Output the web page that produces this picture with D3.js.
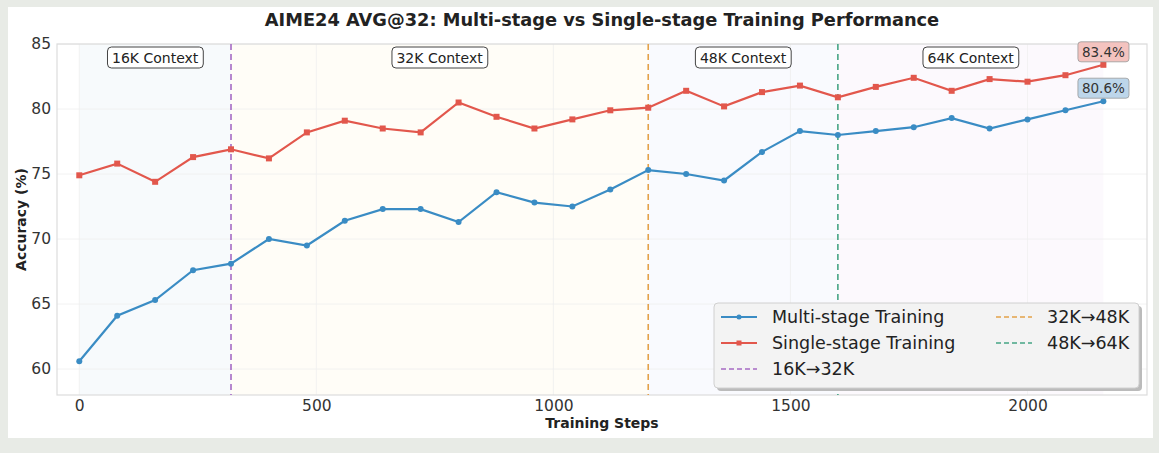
<!DOCTYPE html>
<html><head><meta charset="utf-8">
<script src="https://cdn.jsdelivr.net/npm/d3@7"></script>
<style>
html,body{margin:0;padding:0;background:#e8ebe6;}
svg{display:block;font-family:"DejaVu Sans",sans-serif;}
</style></head>
<body><svg id="c" width="1159" height="453"></svg>
<script>
const steps = [0,80,160,240,320,400,480,560,640,720,800,880,960,1040,1120,1200,1280,1360,1440,1520,1600,1680,1760,1840,1920,2000,2080,2160];
const multiStage = [60.6,64.1,65.3,67.6,68.1,70.0,69.5,71.4,72.3,72.3,71.3,73.6,72.8,72.5,73.8,75.3,75.0,74.5,76.7,78.3,78.0,78.3,78.6,79.3,78.5,79.2,79.9,80.6];
const singleStage = [74.9,75.8,74.4,76.3,76.9,76.2,78.2,79.1,78.5,78.2,80.5,79.4,78.5,79.2,79.9,80.1,81.4,80.2,81.3,81.8,80.9,81.7,82.4,81.4,82.3,82.1,82.6,83.4];
const transitions = [320,1200,1600];
const transitionLabels = ["16K→32K","32K→48K","48K→64K"];
const stageBounds = [0,320,1200,1600,2160];
const stageLabels = ["16K Context","32K Context","48K Context","64K Context"];
const xTicks = [0,500,1000,1500,2000];
const yTicks = [60,65,70,75,80,85];

const svg = d3.select("#c");
const L=57, R=1147, T=44, B=395;
const x = d3.scaleLinear().domain([-47,2252]).range([L,R]);
const y = d3.scaleLinear().domain([58,85]).range([B,T]);

// card
svg.append("rect").attr("x",8).attr("y",7).attr("width",1145).attr("height",431).attr("fill","#fff");

// title
svg.append("text").attr("x",602).attr("y",26).attr("text-anchor","middle")
  .attr("font-size",17.8).attr("font-weight","bold").attr("fill","#222")
  .text("AIME24 AVG@32: Multi-stage vs Single-stage Training Performance");

const stageFills = ["#f7fafc","#fffdf7","#f9fafe","#fcf9fd"];
const stageColors = ["#a66bc4","#e3a24a","#46a585"];

const g = svg.append("g");
// shading
g.selectAll("rect.stage").data(stageLabels).join("rect")
  .attr("x",(d,i)=>x(stageBounds[i])).attr("width",(d,i)=>x(stageBounds[i+1])-x(stageBounds[i]))
  .attr("y",T).attr("height",B-T).attr("fill",(d,i)=>stageFills[i]);

// grid
g.selectAll("line.gy").data(yTicks).join("line")
  .attr("x1",L).attr("x2",R).attr("y1",d=>y(d)).attr("y2",d=>y(d))
  .attr("stroke","#efefef").attr("stroke-width",0.8);
g.selectAll("line.gx").data(xTicks).join("line")
  .attr("y1",T).attr("y2",B).attr("x1",d=>x(d)).attr("x2",d=>x(d))
  .attr("stroke","#efefef").attr("stroke-width",0.8);

// frame
g.append("rect").attr("x",L).attr("y",T).attr("width",R-L).attr("height",B-T)
  .attr("fill","none").attr("stroke","#dcdcdc").attr("stroke-width",1.2);

// axes
const xa = svg.append("g").attr("transform",`translate(0,${B})`)
  .call(d3.axisBottom(x).tickValues(xTicks).tickFormat(d3.format("d")).tickSize(0).tickPadding(5));
const ya = svg.append("g").attr("transform",`translate(${L},0)`)
  .call(d3.axisLeft(y).tickValues(yTicks).tickSize(0).tickPadding(6));
[xa,ya].forEach(a=>{a.select(".domain").remove();
  a.selectAll("text").attr("font-size",15.5).attr("fill","#333").attr("font-family","DejaVu Sans");});

svg.append("text").attr("x",602).attr("y",428).attr("text-anchor","middle")
  .attr("font-size",14).attr("font-weight","bold").attr("fill","#222").text("Training Steps");
svg.append("text").attr("transform",`translate(26,${(T+B)/2}) rotate(-90)`).attr("text-anchor","middle")
  .attr("font-size",14).attr("font-weight","bold").attr("fill","#222").text("Accuracy (%)");

// transitions
g.selectAll("line.tr").data(transitions).join("line")
  .attr("x1",d=>x(d)).attr("x2",d=>x(d)).attr("y1",T).attr("y2",B)
  .attr("stroke",(d,i)=>stageColors[i]).attr("stroke-width",1.6).attr("stroke-dasharray","6,4");

// stage labels
stageLabels.forEach((s,i)=>{
  const cx = x((stageBounds[i]+stageBounds[i+1])/2);
  const t = svg.append("text").attr("x",cx).attr("y",62.5).attr("text-anchor","middle")
    .attr("font-size",14).attr("fill","#222").text(s);
  const bb = t.node().getBBox();
  svg.insert("rect", () => t.node()).attr("x",bb.x-4.5).attr("y",47).attr("width",bb.width+9).attr("height",21)
    .attr("rx",4).attr("fill","#fff").attr("stroke","#444").attr("stroke-width",1);
});

const blue="#3a8cc4", red="#e2574c";
const line = d3.line().x((d,i)=>x(steps[i])).y(d=>y(d));
g.append("path").datum(multiStage).attr("d",line).attr("fill","none").attr("stroke",blue).attr("stroke-width",2.2);
g.append("path").datum(singleStage).attr("d",line).attr("fill","none").attr("stroke",red).attr("stroke-width",2.2);
g.selectAll("circle.m").data(multiStage).join("circle")
  .attr("cx",(d,i)=>x(steps[i])).attr("cy",d=>y(d)).attr("r",3).attr("fill",blue);
g.selectAll("rect.s").data(singleStage).join("rect")
  .attr("x",(d,i)=>x(steps[i])-3).attr("y",d=>y(d)-3).attr("width",6).attr("height",6).attr("fill",red);

// end labels
function endLabel(val, fill){
  const cx = x(steps[steps.length-1]);
  const cy = y(val)-13;
  const t = svg.append("text").attr("x",cx).attr("y",cy+5).attr("text-anchor","middle")
    .attr("font-size",13.5).attr("fill","#333").text(val.toFixed(1)+"%");
  const bb = t.node().getBBox();
  svg.insert("rect",()=>t.node()).attr("x",bb.x-4).attr("y",cy-10).attr("width",bb.width+8).attr("height",20)
    .attr("rx",3).attr("fill",fill).attr("stroke","#999").attr("stroke-width",0.8);
}
endLabel(singleStage[singleStage.length-1],"#f4c3bf");
endLabel(multiStage[multiStage.length-1],"#bdd6ea");

// legend
const lg = svg.append("g");
lg.append("rect").attr("x",717).attr("y",306).attr("width",425).attr("height",85).attr("rx",4).attr("fill","#bbb");
lg.append("rect").attr("x",714).attr("y",303).attr("width",425).attr("height",85).attr("rx",4)
  .attr("fill","#f3f3f3").attr("stroke","#d0d0d0").attr("stroke-width",1);
const items = [
  {label:"Multi-stage Training",color:blue,type:"m",x:721,y:317},
  {label:"Single-stage Training",color:red,type:"s",x:721,y:343},
  {label:transitionLabels[0],color:stageColors[0],type:"d",x:721,y:369},
  {label:transitionLabels[1],color:stageColors[1],type:"d",x:996,y:317},
  {label:transitionLabels[2],color:stageColors[2],type:"d",x:996,y:343}
];
items.forEach(it=>{
  const l = lg.append("line").attr("x1",it.x).attr("x2",it.x+36).attr("y1",it.y).attr("y2",it.y)
    .attr("stroke",it.color).attr("stroke-width",it.type==="d"?1.6:2.2);
  if(it.type==="d") l.attr("stroke-dasharray","5,3");
  if(it.type==="m") lg.append("circle").attr("cx",it.x+18).attr("cy",it.y).attr("r",2.5).attr("fill",it.color);
  if(it.type==="s") lg.append("rect").attr("x",it.x+15.5).attr("y",it.y-2.5).attr("width",5).attr("height",5).attr("fill",it.color);
  lg.append("text").attr("x",it.x+51).attr("y",it.y+6).attr("font-size",17.5).attr("fill","#222").text(it.label);
});
</script></body></html>
